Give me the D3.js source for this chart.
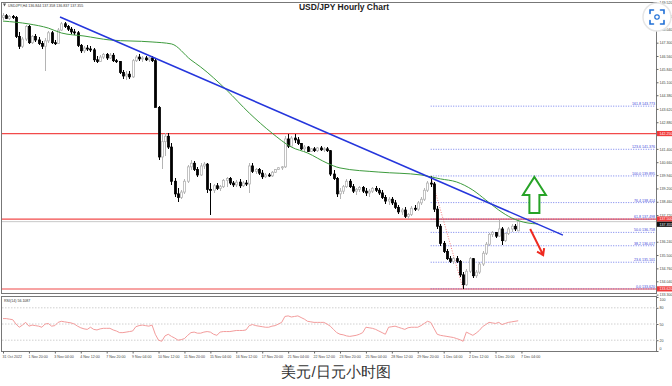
<!DOCTYPE html>
<html>
<head>
<meta charset="utf-8">
<script src="https://cdn.jsdelivr.net/npm/d3@7"></script>
<style>
body { margin: 0; background: #fff; }
svg { display: block; }
text { font-family: "Liberation Sans", Arial, sans-serif; }
</style>
</head>
<body>
<div id="chart"></div>
<script>
// H4 candles, 31 Oct - 7 Dec 2022
var opens = [
  148.70,148.80,148.65,148.75,148.70,147.65,147.10,147.50,148.20,147.30,
  147.65,147.45,147.25,147.10,147.40,147.85,147.30,147.25,148.00,148.35,
  148.20,148.05,147.90,147.85,147.15,146.85,147.00,146.95,146.90,146.35,
  146.25,146.50,146.65,146.45,146.60,146.30,146.25,145.65,145.45,145.55,
  145.40,146.30,146.50,146.40,146.45,146.35,146.45,146.30,143.70,140.95,
  141.80,142.10,141.50,139.60,138.90,138.70,139.00,139.60,140.40,140.60,
  140.25,139.95,140.45,140.55,139.15,139.10,139.35,139.20,139.30,139.65,
  139.75,139.50,139.40,139.55,139.35,139.50,139.45,140.45,140.15,140.25,
  140.05,139.85,139.95,139.90,140.10,140.25,140.35,140.40,141.95,141.55,
  142.00,141.90,141.70,141.40,141.50,141.25,141.40,141.30,141.45,141.35,
  141.40,141.30,140.00,139.75,138.90,139.05,139.30,139.60,139.30,139.05,
  139.15,139.25,139.05,138.95,139.05,139.20,139.10,138.95,138.70,138.50,
  138.60,138.40,138.15,137.90,138.00,137.65,137.75,138.10,138.05,138.40,
  138.60,139.10,139.50,139.45,138.05,137.10,136.15,135.70,135.30,135.15,
  135.30,135.15,134.40,133.85,134.60,135.30,134.35,134.55,135.00,135.60,
  136.10,136.65,136.75,136.55,136.95,136.30,136.70,136.95,137.10,136.844
];
var highs = [
  148.95,148.90,148.85,148.85,148.78,147.90,147.60,148.30,148.30,147.75,
  147.80,147.60,147.40,147.55,147.95,147.95,147.45,148.10,148.45,148.45,
  148.30,148.15,148.05,147.95,147.25,147.10,147.15,147.10,147.00,146.55,
  146.60,146.75,146.75,146.70,146.75,146.40,146.30,145.80,145.70,145.75,
  146.40,146.60,146.65,146.55,146.55,146.50,146.55,146.40,143.80,142.20,
  142.30,142.30,141.70,139.80,139.20,139.10,139.70,140.50,140.80,140.70,
  140.40,140.60,140.65,140.60,139.50,139.45,139.50,139.40,139.75,139.85,
  139.85,139.60,139.65,139.70,139.60,139.65,140.60,140.60,140.35,140.35,
  140.25,140.05,140.05,140.15,140.30,140.40,140.45,142.10,142.25,142.10,
  142.20,142.05,141.75,141.60,141.55,141.45,141.50,141.50,141.55,141.50,
  141.50,141.35,140.20,139.85,139.20,139.40,139.75,139.70,139.45,139.25,
  139.35,139.35,139.20,139.15,139.30,139.35,139.25,139.10,138.85,138.70,
  138.75,138.55,138.30,138.10,138.15,137.85,138.20,138.30,138.50,138.70,
  139.20,139.60,139.90,139.55,138.20,137.20,136.30,135.85,135.45,135.40,
  135.45,135.25,134.55,134.70,135.40,135.35,134.65,135.10,135.70,136.20,
  136.75,136.85,136.80,137.45,137.05,136.75,137.05,137.20,137.25,137.358
];
var lows = [
  148.55,148.60,148.55,148.60,147.55,146.95,147.00,147.40,147.20,147.20,
  147.35,147.15,146.95,145.70,147.30,147.20,147.15,147.20,147.95,148.10,
  147.95,147.80,147.75,147.05,146.75,146.75,146.85,146.80,146.25,146.15,
  146.20,146.40,146.35,146.40,146.20,146.15,145.55,145.30,145.25,145.30,
  145.35,146.20,146.30,146.25,146.30,146.25,146.20,143.70,140.80,140.30,
  141.00,141.40,139.40,138.70,138.45,138.60,138.90,139.50,140.20,140.15,
  139.85,139.90,140.30,138.95,137.72,138.95,139.10,139.05,139.20,139.30,
  139.40,139.30,139.30,139.25,139.30,139.35,138.95,140.05,140.00,139.95,
  139.75,139.80,139.85,139.85,140.05,140.20,140.25,140.35,141.45,141.50,
  141.75,141.60,141.35,141.25,141.20,141.20,141.25,141.25,141.30,141.25,
  141.20,139.90,139.65,138.75,138.60,138.90,139.20,139.20,138.95,138.85,
  139.00,138.95,138.80,138.75,138.95,139.00,138.85,138.60,138.35,138.30,
  138.30,138.05,137.80,137.70,137.55,137.50,137.65,137.95,137.95,138.30,
  138.50,139.00,139.30,137.90,136.95,136.00,135.60,135.20,135.05,135.00,
  135.05,134.30,133.62,133.80,134.50,134.20,134.25,134.45,134.90,135.50,
  136.00,136.50,136.45,136.50,136.05,136.25,136.60,136.80,136.85,136.837
];
var closes = [
  148.80,148.65,148.75,148.70,147.65,147.10,147.50,148.20,147.30,147.65,
  147.45,147.25,147.10,147.40,147.85,147.30,147.25,148.00,148.35,148.20,
  148.05,147.90,147.85,147.15,146.85,147.00,146.95,146.90,146.35,146.25,
  146.50,146.65,146.45,146.60,146.30,146.25,145.65,145.45,145.55,145.40,
  146.30,146.50,146.40,146.45,146.35,146.45,146.30,143.70,140.95,141.80,
  142.10,141.50,139.60,138.90,138.70,139.00,139.60,140.40,140.60,140.25,
  139.95,140.45,140.55,139.15,139.10,139.35,139.20,139.30,139.65,139.75,
  139.50,139.40,139.55,139.35,139.50,139.45,140.45,140.15,140.25,140.05,
  139.85,139.95,139.90,140.10,140.25,140.35,140.40,141.95,141.55,142.00,
  141.90,141.70,141.40,141.50,141.25,141.40,141.30,141.45,141.35,141.40,
  141.30,140.00,139.75,138.90,139.05,139.30,139.60,139.30,139.05,139.15,
  139.25,139.05,138.95,139.05,139.20,139.10,138.95,138.70,138.50,138.60,
  138.40,138.15,137.90,138.00,137.65,137.75,138.10,138.05,138.40,138.60,
  139.10,139.50,139.45,138.05,137.10,136.15,135.70,135.30,135.15,135.30,
  135.15,134.40,133.85,134.60,135.30,134.35,134.55,135.00,135.60,136.10,
  136.65,136.75,136.55,136.95,136.30,136.70,136.95,137.10,136.95,137.355
];
var rsiValues = [
  60,60,59,58,50,44,48,53,46,48,
  47,46,44,50,51,46,47,53,55,54,
  53,52,50,46,43,41,40,44,40,39,
  41,42,42,42,39,37,34,34,35,36,
  37,45,47,48,47,46,48,31,20,18,
  28,31,27,24,20,21,23,29,34,35,
  33,33,35,36,35,31,29,35,36,36,
  36,37,38,38,38,39,47,49,47,46,
  45,44,44,46,47,50,53,64,65,63,
  64,65,62,59,55,54,53,53,53,53,
  50,46,40,34,31,30,28,27,28,29,
  31,34,44,43,42,40,37,34,31,44,
  45,46,44,42,40,43,44,44,44,47,
  51,55,53,42,31,29,28,27,26,25,
  23,21,18,35,32,29,33,38,45,49,
  53,52,51,53,49,51,53,54,55,56
];

// moving average (green), read at a few bars
var maBars = [0, 8, 14, 18, 25, 33, 46, 52, 58, 61, 69, 76, 83, 89, 94, 100, 104, 116, 129, 135, 140, 145, 149, 153, 157, 162, 165];
var maValues = [148.50, 148.34, 148.11, 147.84, 147.67, 147.45, 147.34, 147.23, 146.34, 145.95, 144.67, 143.39, 142.28, 141.50, 141.17, 140.61, 140.34, 140.11, 139.95, 139.73, 139.56, 139.11, 138.56, 138.00, 137.56, 137.28, 137.23];

// trend line end points
var trendBars = [17.6, 172.8];
var trendPrices = [148.73, 136.61];

// fibonacci retracement
var fibLevels = ["161.8", "123.6", "100.0", "76.4", "61.8", "50.0", "38.2", "23.6", "0.0"];
var fibPrices = [143.773, 141.376, 139.895, 138.414, 137.498, 136.758, 136.017, 135.101, 133.620];
var fibAnchorBars = [132, 142];

// horizontal lines with price tags
var redLevels = [142.250, 137.500, 133.620];
var bidPrice = 137.355;

// 142.140 and 136.980 sit under the price tags
var priceTicks = [149.520, 148.780, 148.040, 147.300, 146.560, 145.840, 145.100, 144.380, 143.620, 142.880,
  141.400, 140.660, 139.940, 139.200, 138.460, 137.720, 136.240, 135.500, 134.760, 134.040, 133.300];
var rsiTicks = [100, 80, 50, 20, 0];
var rsiLevels = [80, 50, 20];

var xLabels = ["31 Oct 2022", "1 Nov 20:00", "3 Nov 04:00", "4 Nov 12:00", "7 Nov 20:00", "9 Nov 04:00", "10 Nov 12:00",
  "11 Nov 20:00", "15 Nov 04:00", "16 Nov 12:00", "17 Nov 20:00", "21 Nov 04:00", "22 Nov 12:00", "23 Nov 20:00",
  "25 Nov 04:00", "28 Nov 12:00", "29 Nov 20:00", "1 Dec 04:00", "2 Dec 12:00", "5 Dec 20:00", "7 Dec 04:00"];
var xLabelBars = [0, 8, 16, 24, 32, 40, 48, 56, 64, 72, 80, 88, 96, 104, 112, 120, 128, 136, 144, 152, 160];

var svgWidth = 672;
var svgHeight = 386;
var panel = { left: 2, right: 657, top: 3, bottom: 294, rsiTop: 296, rsiBottom: 351 };
var smallFont = 3.6;

var svg = d3.select("#chart")
  .append("svg")
  .attr("width", svgWidth)
  .attr("height", svgHeight);

svg.append("rect").attr("width", svgWidth).attr("height", svgHeight).attr("fill", "#fff");

var xScale = d3.scaleLinear().domain([0, 159]).range([3, 518.2]);
var yScale = d3.scaleLinear().domain([133.28, 149.56]).range([295, 2]);
var rsiScale = d3.scaleLinear().domain([0, 100]).range([351, 297]);

svg.append("clipPath").attr("id", "mainClip")
  .append("rect")
  .attr("x", panel.left).attr("y", panel.top)
  .attr("width", panel.right - panel.left).attr("height", panel.bottom - panel.top);

var main = svg.append("g").attr("clip-path", "url(#mainClip)");

// bid line
main.append("line")
  .attr("x1", panel.left).attr("x2", panel.right)
  .attr("y1", yScale(bidPrice)).attr("y2", yScale(bidPrice))
  .attr("stroke", "#c8c8c8").attr("stroke-width", 1);

// red support / resistance lines
main.selectAll(".level").data(redLevels).enter().append("line")
  .attr("class", "level")
  .attr("x1", panel.left).attr("x2", panel.right)
  .attr("y1", d => yScale(d)).attr("y2", d => yScale(d))
  .attr("stroke", (d, i) => i == 2 ? "#f7a3a3" : "#f24a4a")
  .attr("stroke-width", (d, i) => i == 2 ? 2 : 1.2);

// fib levels
main.selectAll(".fib").data(fibPrices).enter().append("line")
  .attr("class", "fib")
  .attr("x1", xScale(fibAnchorBars[0])).attr("x2", panel.right - 2)
  .attr("y1", d => yScale(d)).attr("y2", d => yScale(d))
  .attr("stroke", "#5060e8").attr("stroke-width", 0.8)
  .attr("stroke-dasharray", "1,1.5");

main.selectAll(".fibText").data(fibPrices).enter().append("text")
  .attr("class", "fibText")
  .attr("x", panel.right - 2)
  .attr("y", d => yScale(d) - 1)
  .attr("text-anchor", "end")
  .attr("font-size", smallFont)
  .attr("fill", "#3a46d8")
  .text((d, i) => fibLevels[i] + " " + d.toFixed(3));

main.append("line")
  .attr("x1", xScale(fibAnchorBars[0])).attr("y1", yScale(fibPrices[2]))
  .attr("x2", xScale(fibAnchorBars[1])).attr("y2", yScale(fibPrices[8]))
  .attr("stroke", "#f06060").attr("stroke-width", 0.8)
  .attr("stroke-dasharray", "1,1.5");

// candles
var bars = d3.range(closes.length);
var candles = main.selectAll(".candle").data(bars).enter().append("g").attr("class", "candle");

candles.append("rect")
  .attr("x", d => Math.round(xScale(d)))
  .attr("width", 1)
  .attr("y", d => yScale(highs[d]))
  .attr("height", d => Math.max(1, yScale(lows[d]) - yScale(highs[d])))
  .attr("fill", d => closes[d] >= opens[d] ? "#b4b4b4" : "#000")
  .attr("shape-rendering", "crispEdges");

candles.append("rect")
  .attr("x", d => Math.round(xScale(d)) - 0.5)
  .attr("width", 2)
  .attr("y", d => yScale(Math.max(opens[d], closes[d])))
  .attr("height", d => Math.max(1, Math.abs(yScale(opens[d]) - yScale(closes[d]))))
  .attr("fill", d => closes[d] >= opens[d] ? "#fff" : "#000")
  .attr("stroke", d => closes[d] >= opens[d] ? "#b4b4b4" : "#000")
  .attr("stroke-width", 0.8);

// moving average
var maLine = d3.line()
  .x((d, i) => xScale(maBars[i]))
  .y(d => yScale(d))
  .curve(d3.curveMonotoneX);

main.append("path")
  .datum(maValues)
  .attr("d", maLine)
  .attr("fill", "none")
  .attr("stroke", "#3d9b3d")
  .attr("stroke-width", 1);

// trend line
main.append("line")
  .attr("x1", xScale(trendBars[0])).attr("y1", yScale(trendPrices[0]))
  .attr("x2", xScale(trendBars[1])).attr("y2", yScale(trendPrices[1]))
  .attr("stroke", "#2536dc")
  .attr("stroke-width", 1.5);

// arrows
var upX = xScale(164), upTip = yScale(139.84), upNeck = yScale(138.84), upBase = yScale(137.84);
main.append("path")
  .attr("d", "M" + upX + "," + upTip +
    "L" + (upX + 11.5) + "," + upNeck + "L" + (upX + 5) + "," + upNeck +
    "L" + (upX + 5) + "," + upBase + "L" + (upX - 5) + "," + upBase +
    "L" + (upX - 5) + "," + upNeck + "L" + (upX - 11.5) + "," + upNeck + "Z")
  .attr("fill", "#fff")
  .attr("stroke", "#27a327")
  .attr("stroke-width", 2)
  .attr("stroke-linejoin", "miter");

var dnX1 = xScale(162.7), dnY1 = yScale(136.95), dnX2 = xScale(166.7), dnY2 = yScale(135.5);
var ang = Math.atan2(dnY2 - dnY1, dnX2 - dnX1);
var head = 7;
main.append("path")
  .attr("d", "M" + dnX1 + "," + dnY1 + "L" + dnX2 + "," + dnY2 +
    "M" + (dnX2 - head * Math.cos(ang - 0.6)) + "," + (dnY2 - head * Math.sin(ang - 0.6)) +
    "L" + dnX2 + "," + dnY2 +
    "L" + (dnX2 - head * Math.cos(ang + 0.6)) + "," + (dnY2 - head * Math.sin(ang + 0.6)))
  .attr("fill", "none")
  .attr("stroke", "#ee2a20")
  .attr("stroke-width", 2);

// frames
svg.append("rect")
  .attr("x", panel.left - 0.5).attr("y", panel.top - 0.5)
  .attr("width", panel.right - panel.left).attr("height", panel.bottom - panel.top)
  .attr("fill", "none").attr("stroke", "#777").attr("stroke-width", 1);

svg.append("rect")
  .attr("x", panel.left - 0.5).attr("y", panel.rsiTop + 0.5)
  .attr("width", panel.right - panel.left).attr("height", panel.rsiBottom - panel.rsiTop)
  .attr("fill", "none").attr("stroke", "#777").attr("stroke-width", 1);

// price axis
var yAxis = d3.axisRight(yScale).tickValues(priceTicks).tickSize(2).tickFormat(d3.format(".3f"));
var yAxisG = svg.append("g")
  .attr("transform", `translate(${panel.right - 0.5}, 0)`)
  .call(yAxis);
yAxisG.select(".domain").remove();
yAxisG.selectAll("line").attr("stroke", "#666");
yAxisG.selectAll("text").attr("x", 3).attr("font-size", smallFont).attr("fill", "#444")
  .attr("font-family", "Liberation Sans, Arial, sans-serif");

// price tags (bid tag pushed just below the 137.500 tag, as on screen)
var tags = redLevels.concat([bidPrice]);
var tagY = tags.map((d, i) => i == 3 ? Math.max(yScale(d), yScale(redLevels[1]) + 5.2) : yScale(d));
var tagG = svg.selectAll(".tag").data(tags).enter().append("g").attr("class", "tag");
tagG.append("rect")
  .attr("x", panel.right).attr("width", svgWidth - panel.right)
  .attr("y", (d, i) => tagY[i] - 2.6).attr("height", 5.2)
  .attr("fill", (d, i) => i == 3 ? "#111" : "#f03c3c");
tagG.append("text")
  .attr("x", panel.right + 2.5).attr("y", (d, i) => tagY[i] + 1.3)
  .attr("font-size", smallFont).attr("fill", "#fff")
  .text(d => d.toFixed(3));

// RSI panel
svg.selectAll(".rsiLevel").data(rsiLevels).enter().append("line")
  .attr("x1", panel.left).attr("x2", panel.right)
  .attr("y1", d => rsiScale(d)).attr("y2", d => rsiScale(d))
  .attr("stroke", "#c4c4c4").attr("stroke-width", 0.8)
  .attr("stroke-dasharray", "1.5,1.5");

var rsiLine = d3.line()
  .x((d, i) => xScale(i))
  .y(d => rsiScale(d));

svg.append("path")
  .datum(rsiValues)
  .attr("d", rsiLine)
  .attr("fill", "none")
  .attr("stroke", "#f39c9c")
  .attr("stroke-width", 1);

var rsiAxis = d3.axisRight(rsiScale).tickValues(rsiTicks).tickSize(2);
var rsiAxisG = svg.append("g")
  .attr("transform", `translate(${panel.right - 0.5}, 0)`)
  .call(rsiAxis);
rsiAxisG.select(".domain").remove();
rsiAxisG.selectAll("line").attr("stroke", "#666");
rsiAxisG.selectAll("text").attr("x", 3).attr("font-size", smallFont).attr("fill", "#444")
  .attr("font-family", "Liberation Sans, Arial, sans-serif")
  .attr("dy", d => d == 100 ? "0.9em" : d == 0 ? "-0.3em" : "0.32em");

svg.append("text")
  .attr("x", 4).attr("y", panel.rsiTop + 6)
  .attr("font-size", smallFont).attr("fill", "#333")
  .text("RSI(14) 56.1087");

// time axis
var xAxis = d3.axisBottom(xScale).tickValues(xLabelBars).tickSize(2).tickFormat((d, i) => xLabels[i]);
var xAxisG = svg.append("g")
  .attr("transform", `translate(0, ${panel.rsiBottom + 0.5})`)
  .call(xAxis);
xAxisG.select(".domain").remove();
xAxisG.selectAll("line").attr("stroke", "#666");
xAxisG.selectAll("text")
  .attr("text-anchor", "start")
  .attr("x", -1).attr("y", 3.5)
  .attr("font-size", smallFont).attr("fill", "#444")
  .attr("font-family", "Liberation Sans, Arial, sans-serif");

// header
svg.append("path")
  .attr("d", "M3,3.5L6,3.5L4.5,6.5Z")
  .attr("fill", "#555");
svg.append("text")
  .attr("x", 8).attr("y", 6.5)
  .attr("font-size", smallFont).attr("fill", "#333")
  .text("USDJPY,H4 " + opens[159].toFixed(3) + " " + highs[159].toFixed(3) + " " + lows[159].toFixed(3) + " " + closes[159].toFixed(3));

svg.append("text")
  .attr("x", 344).attr("y", 10)
  .attr("text-anchor", "middle")
  .attr("font-weight", "bold")
  .attr("font-size", 8.5)
  .attr("fill", "#222")
  .text("USD/JPY Hourly Chart");

// focus icon overlay
var icon = svg.append("g").attr("transform", "translate(657,17)");
icon.append("circle").attr("r", 14).attr("fill", "#fff")
  .attr("stroke", "#e6e6e6").attr("stroke-width", 1.5);
var b = 7, k = 3.5;
icon.append("path")
  .attr("d", `M${-b},${-b + k}V${-b}H${-b + k}M${b - k},${-b}H${b}V${-b + k}M${b},${b - k}V${b}H${b - k}M${-b + k},${b}H${-b}V${b - k}`)
  .attr("fill", "none").attr("stroke", "#1f6fd6").attr("stroke-width", 1.6)
  .attr("stroke-linecap", "round");
icon.append("circle").attr("r", 2.2).attr("fill", "none").attr("stroke", "#1f6fd6").attr("stroke-width", 1.2);

// caption
svg.append("text")
  .attr("x", 336).attr("y", 377)
  .attr("text-anchor", "middle")
  .attr("font-family", "Noto Sans CJK SC, sans-serif")
  .attr("font-size", 15)
  .attr("fill", "#333")
  .text("美元/日元小时图");
</script>
</body>
</html>
